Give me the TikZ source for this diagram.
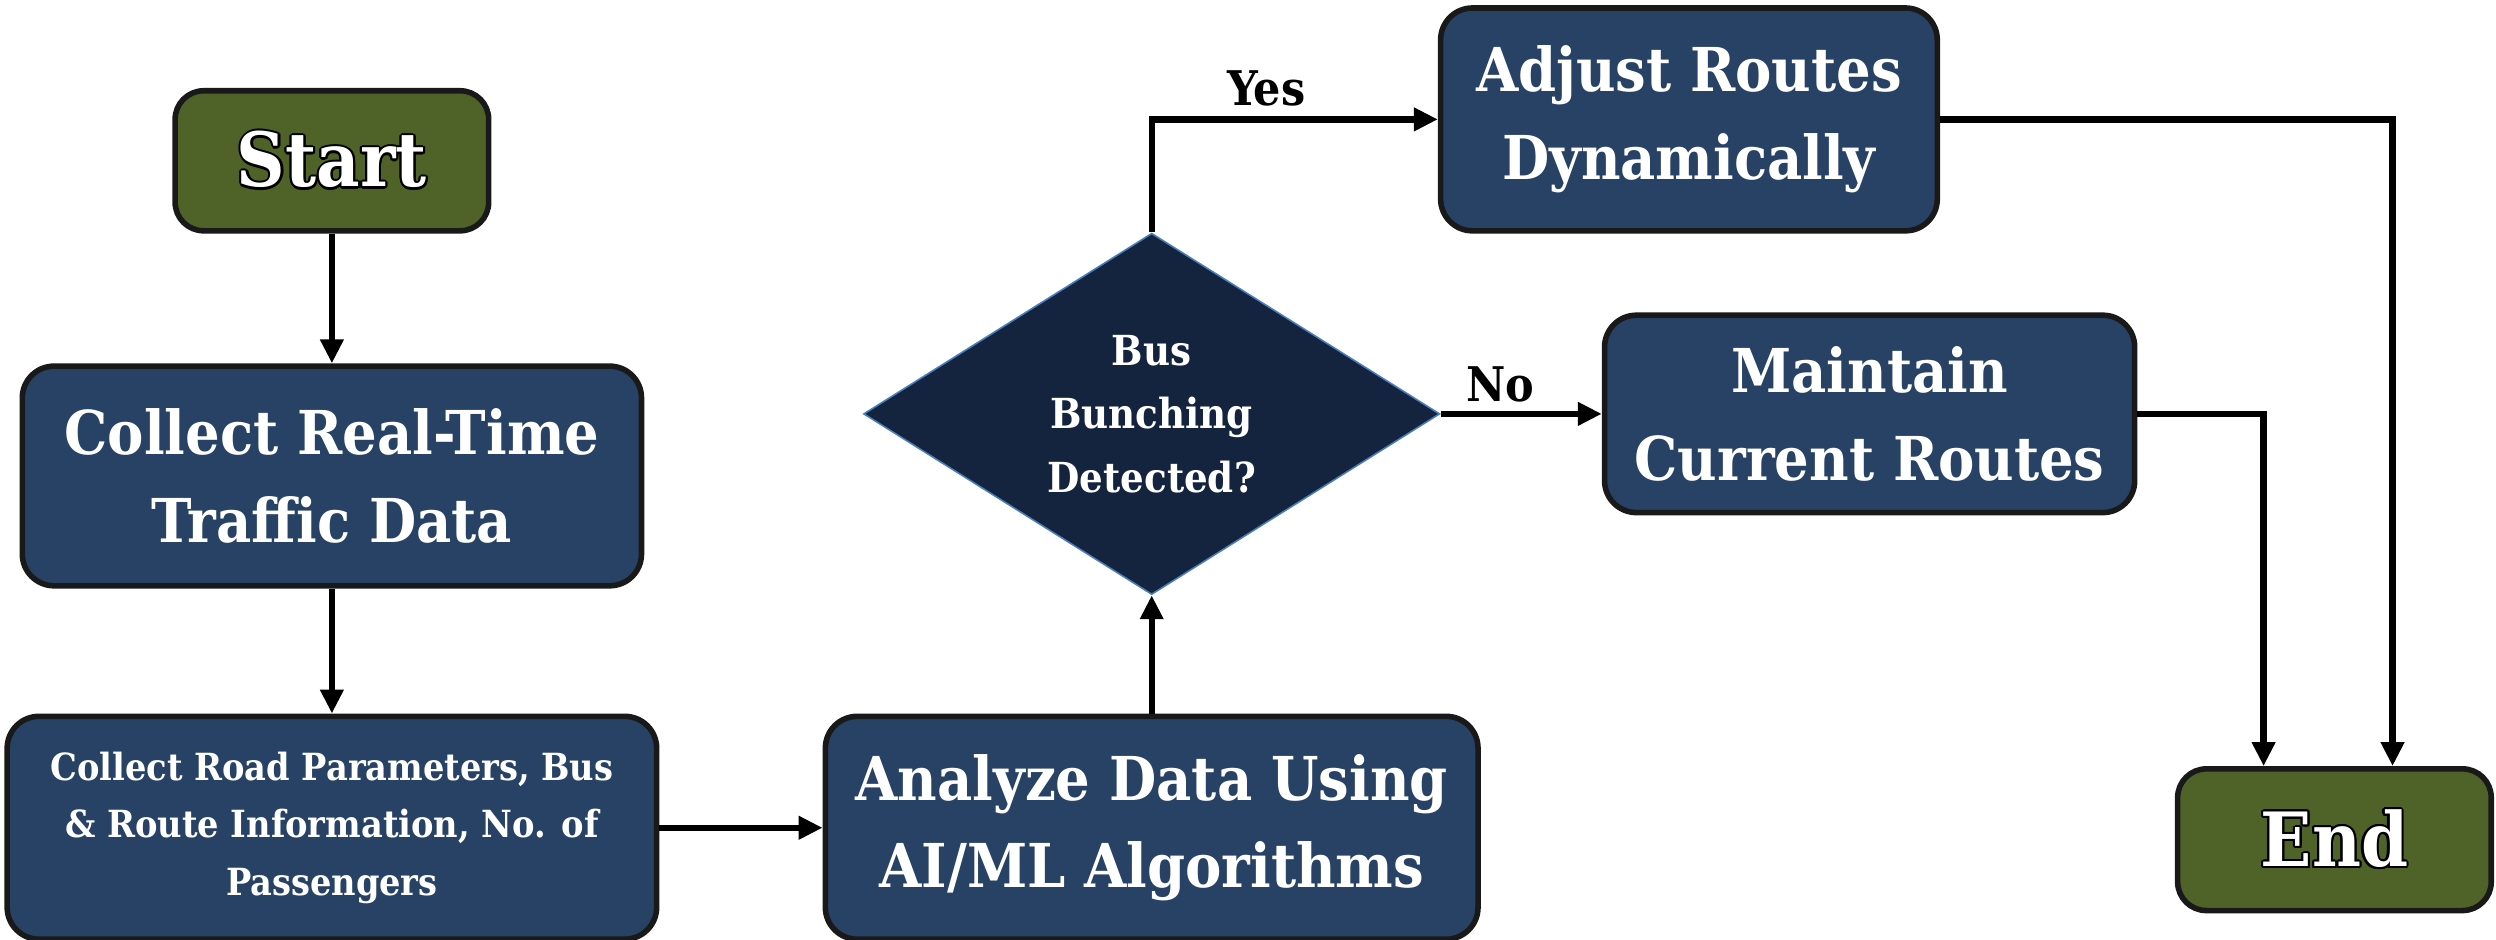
\documentclass[tikz,border=0pt]{standalone}
\usepackage{fontspec}
\setmainfont{DejaVu Serif Condensed}
\usepackage{contour}
\usetikzlibrary{shapes.geometric,arrows.meta}
\definecolor{boxblue}{HTML}{274264}
\definecolor{diamblue}{HTML}{14243F}
\definecolor{olivegreen}{HTML}{4F6228}
\definecolor{diamedge}{HTML}{4A7EBB}
\contourlength{1.3pt}
\tikzset{
  bluebox/.style={draw=black!90, line width=3.5pt, rounded corners=20pt, fill=boxblue,
    text=white, align=center, inner sep=0pt},
  greenbox/.style={draw=black!90, line width=3.5pt, rounded corners=18pt, fill=olivegreen,
    align=center, inner sep=0pt},
  decbox/.style={diamond, draw=diamedge, line width=1pt, fill=diamblue, text=white,
    align=center, inner sep=0pt, aspect=1.6},
  arr/.style={line width=4pt, -{Triangle[length=15pt,width=14pt]}},
  lbl/.style={font=\bfseries\fontsize{30}{34}\selectfont, text=black}
}
\begin{document}
\begin{tikzpicture}[x=1pt,y=-1pt]
\useasboundingbox (0,0) rectangle (1568,590);
\node[greenbox, minimum width=197, minimum height=88, font=\bfseries\fontsize{47}{50}\selectfont] (start) at (208.5,101) {\contour{black}{\textcolor{white}{Start}}};
\node[bluebox, minimum width=389, minimum height=138, font=\bfseries\fontsize{38}{55}\selectfont] (c1) at (208.5,299) {Collect Real-Time\\Traffic Data};
\node[bluebox, minimum width=408, minimum height=140, font=\bfseries\fontsize{23.5}{36}\selectfont] (c2) at (208.5,520) {Collect Road Parameters, Bus\\\& Route Information, No. of\\Passengers};
\node[bluebox, minimum width=410, minimum height=140, font=\bfseries\fontsize{38}{55}\selectfont] (an) at (723.5,520) {Analyze Data Using\\AI/ML Algorithms};
\node[decbox, minimum width=362, minimum height=227, font=\bfseries\fontsize{26}{40}\selectfont] (dec) at (723.5,260) {Bus\\Bunching\\Detected?};
\node[bluebox, minimum width=312, minimum height=140, font=\bfseries\fontsize{38}{55}\selectfont] (adj) at (1061,75) {Adjust Routes\\Dynamically};
\node[bluebox, minimum width=333, minimum height=124, font=\bfseries\fontsize{38}{55}\selectfont] (mt) at (1174.5,260) {Maintain\\Current Routes};
\node[greenbox, minimum width=197, minimum height=89, font=\bfseries\fontsize{47}{50}\selectfont] (end) at (1466.5,527.5) {\contour{black}{\textcolor{white}{End}}};
\coordinate (e1) at ([xshift=-44.5pt]end.north);
\coordinate (e2) at ([xshift=36.5pt]end.north);
\draw[arr] (start) -- (c1);
\draw[arr] (c1) -- (c2);
\draw[arr] (c2) -- (an);
\draw[arr] (an) -- (dec);
\draw[arr] (dec.north) |- node[lbl, pos=0.70, above=3pt] (yes) {Yes} (adj.west);
\draw[arr] (dec.east) -- node[lbl, pos=0.37, above=2pt] (no) {No} (mt.west);
\draw[arr] (mt.east) -| (e1);
\draw[arr] (adj.east) -| (e2);
\end{tikzpicture}
\end{document}
